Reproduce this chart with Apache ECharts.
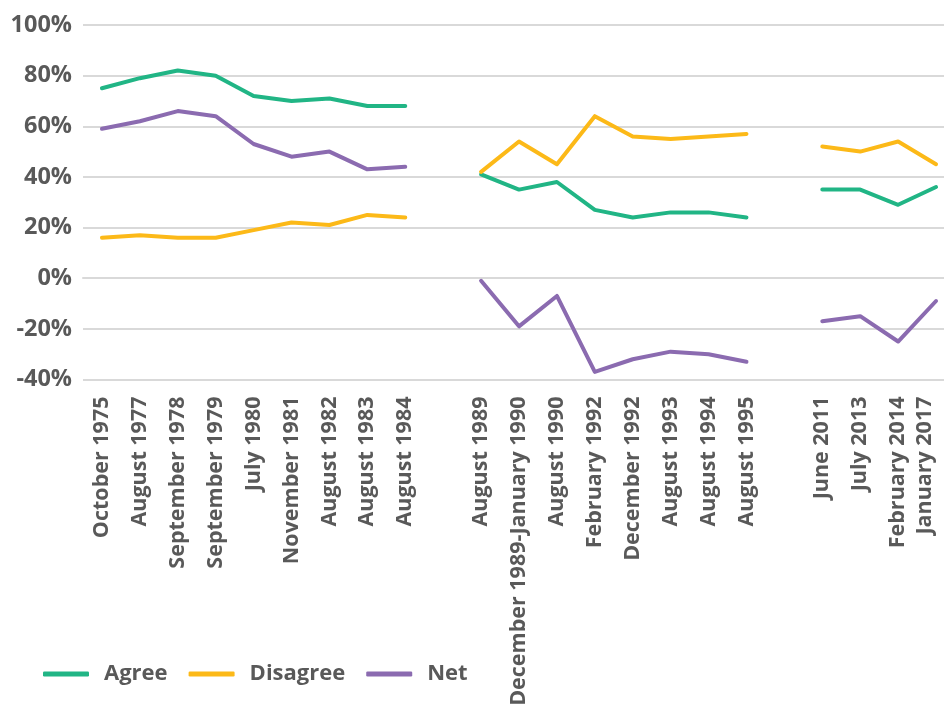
<!DOCTYPE html>
<html>
<head>
<meta charset="utf-8">
<script src="https://cdn.jsdelivr.net/npm/echarts@6/dist/echarts.min.js"></script>
<style>
  html, body { margin: 0; padding: 0; background: #fff; }
  #chart { width: 944px; height: 713px; }
</style>
</head>
<body>
<div id="chart"></div>
<script>
// Survey waves; empty strings mark the breaks between survey periods.
const categories = [
  'October 1975', 'August 1977', 'September 1978', 'September 1979', 'July 1980',
  'November 1981', 'August 1982', 'August 1983', 'August 1984',
  '',
  'August 1989', 'December 1989-January 1990', 'August 1990', 'February 1992',
  'December 1992', 'August 1993', 'August 1994', 'August 1995',
  '',
  'June 2011', 'July 2013', 'February 2014', 'January 2017'
];

// Percentages per wave (null = no survey in that slot).
const agree = [75, 79, 82, 80, 72, 70, 71, 68, 68, null,
  41, 35, 38, 27, 24, 26, 26, 24, null,
  35, 35, 29, 36];
const disagree = [16, 17, 16, 16, 19, 22, 21, 25, 24, null,
  42, 54, 45, 64, 56, 55, 56, 57, null,
  52, 50, 54, 45];
const net = [59, 62, 66, 64, 53, 48, 50, 43, 44, null,
  -1, -19, -7, -37, -32, -29, -30, -33, null,
  -17, -15, -25, -9];

const yTicks = { min: -40, max: 100, step: 20 };

const FONT = '"Open Sans", "Noto Sans", sans-serif';
const TEXT = '#595959';
const COLORS = { agree: '#21b585', disagree: '#fcb918', net: '#8b6bb0' };

function lineSeries(name, data, color) {
  return {
    name, type: 'line', data,
    symbol: 'none',
    connectNulls: false,
    lineStyle: { width: 4, color, cap: 'round', join: 'round' },
    itemStyle: { color },
    emphasis: { disabled: true }
  };
}

// The final label is nudged inward so it stays inside the canvas.
const axisCategories = categories.map((c, i) =>
  i === categories.length - 1
    ? { value: c, textStyle: { verticalAlign: 'bottom' } }
    : c
);

const chart = echarts.init(document.getElementById('chart'), null, { renderer: 'canvas' });
chart.setOption({
  animation: false,
  backgroundColor: '#fff',
  // plot area runs a little past the right edge of the canvas
  grid: {
    left: 83, width: 872, top: 25, bottom: 333.5,
    containLabel: false, outerBoundsMode: 'none'
  },
  legend: {
    left: 38, top: 658,
    itemWidth: 46, itemHeight: 5, itemGap: 21,
    icon: 'roundRect',
    textStyle: { fontFamily: FONT, fontWeight: 'bold', fontSize: 22, color: TEXT, padding: [0, 0, 0, 10] },
    data: ['Agree', 'Disagree', 'Net']
  },
  xAxis: {
    type: 'category',
    data: axisCategories,
    boundaryGap: true,
    axisLine: { show: true, lineStyle: { color: '#d9d9d9', width: 2 } },
    axisTick: { show: false },
    axisLabel: {
      interval: 0, rotate: 90, margin: 17, hideOverlap: false,
      fontFamily: FONT, fontWeight: 'bold', fontSize: 21.5, color: TEXT
    }
  },
  yAxis: {
    type: 'value',
    min: yTicks.min, max: yTicks.max, interval: yTicks.step,
    axisLine: { show: false },
    axisTick: { show: false },
    splitLine: { lineStyle: { color: '#d9d9d9', width: 2 } },
    axisLabel: {
      formatter: '{value}%', margin: 11,
      fontFamily: FONT, fontWeight: 'bold', fontSize: 23.5, color: TEXT
    }
  },
  series: [
    lineSeries('Agree', agree, COLORS.agree),
    lineSeries('Disagree', disagree, COLORS.disagree),
    lineSeries('Net', net, COLORS.net)
  ]
});
</script>
</body>
</html>
